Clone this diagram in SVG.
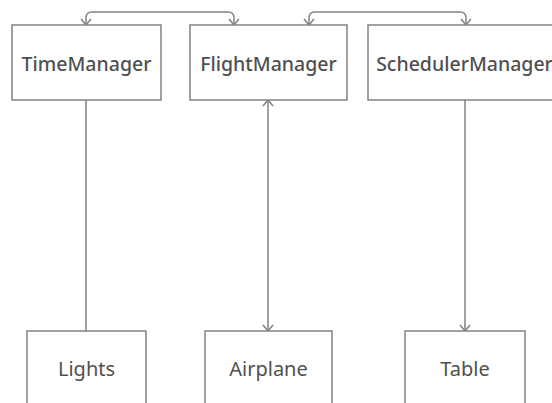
<svg xmlns="http://www.w3.org/2000/svg" width="552" height="403" viewBox="0 0 552 403">
  <style>
    .box { fill: #ffffff; stroke: #828282; stroke-width: 1.5; }
    .title { font-family: "Noto Sans", "Open Sans", sans-serif; font-weight: 500; font-size: 19.5px; fill: #505050; text-anchor: middle; }
    .label { font-family: "Noto Sans", "Open Sans", sans-serif; font-weight: 400; font-size: 20px; fill: #505050; text-anchor: middle; }
    .edge { fill: none; stroke: #828282; stroke-width: 1.5; }
  </style>
  <defs>
    <marker id="arrow" viewBox="-7 -6 8 12" markerWidth="8" markerHeight="12" refX="0" refY="0" orient="auto-start-reverse" markerUnits="userSpaceOnUse">
      <path d="M-6,-5 L0,0 L-6,5" fill="none" stroke="#828282" stroke-width="1.5"/>
    </marker>
  </defs>
  <rect width="552" height="403" fill="#ffffff"/>

  <g id="connectors">
    <path class="edge" d="M86,25 V18 Q86,12 92,12 H228 Q234,12 234,18 V25" marker-start="url(#arrow)" marker-end="url(#arrow)"/>
    <path class="edge" d="M309,25 V18 Q309,12 315,12 H460 Q466,12 466,18 V25" marker-start="url(#arrow)" marker-end="url(#arrow)"/>
    <path class="edge" d="M86,100 V331"/>
    <path class="edge" d="M268,100 V331" marker-start="url(#arrow)" marker-end="url(#arrow)"/>
    <path class="edge" d="M465,100 V331" marker-end="url(#arrow)"/>
  </g>

  <g id="TimeManager">
    <rect class="box" x="12" y="25" width="149" height="75"/>
    <text class="title" x="86.5" y="71">TimeManager</text>
  </g>
  <g id="FlightManager">
    <rect class="box" x="190" y="25" width="157" height="75"/>
    <text class="title" x="268.5" y="71">FlightManager</text>
  </g>
  <g id="SchedulerManager">
    <rect class="box" x="368" y="25" width="194" height="75"/>
    <text class="title" x="464.5" y="71">SchedulerManager</text>
  </g>
  <g id="Lights">
    <rect class="box" x="27" y="331" width="119" height="75"/>
    <text class="label" x="86.5" y="376">Lights</text>
  </g>
  <g id="Airplane">
    <rect class="box" x="205" y="331" width="127" height="75"/>
    <text class="label" x="268.5" y="376">Airplane</text>
  </g>
  <g id="Table">
    <rect class="box" x="405" y="331" width="120" height="75"/>
    <text class="label" x="465" y="376">Table</text>
  </g>
</svg>
